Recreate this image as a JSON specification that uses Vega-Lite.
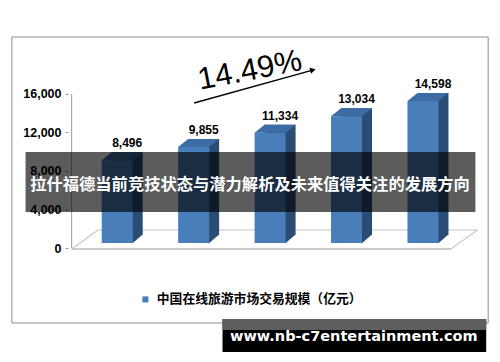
{
  "$schema": "https://vega.github.io/schema/vega-lite/v6.json",
  "width": 500,
  "height": 362,
  "autosize": "none",
  "padding": 0,
  "background": "white",
  "config": {"view": {"stroke": null}},
  "resolve": {"scale": {"y": "independent"}},
  "datasets": {
    "bars": [
      {"year": "2018E", "i": 0, "v": 8496},
      {"year": "2019E", "i": 1, "v": 9855},
      {"year": "2020E", "i": 2, "v": 11334},
      {"year": "2021E", "i": 3, "v": 13034},
      {"year": "2022E", "i": 4, "v": 14598}
    ],
    "one": [{}]
  },
  "layer": [
    {
      "data": {"name": "one"},
      "mark": {"type": "rect", "fillOpacity": 0, "stroke": "#8c8c8c", "strokeWidth": 1},
      "encoding": {
        "x": {"datum": -1.378, "type": "quantitative", "scale": {"domain": [-1.4679, 4.9423], "nice": false, "zero": false},
          "axis": {"orient": "bottom", "offset": -113, "values": [0, 1, 2, 3, 4], "labelExpr": "['2018E','2019E','2020E','2021E','2022E'][datum.value]", "domain": false, "ticks": false, "tickSize": 0, "grid": false, "labelPadding": 8, "labelFont": "Liberation Sans", "labelFontWeight": "bold", "labelFontSize": 13, "labelColor": "black", "labelOffset": -7, "title": null}},
        "x2": {"datum": 4.853},
        "y": {"datum": 21922, "type": "quantitative", "scale": {"domain": [-11844, 25766], "nice": false, "zero": false}, "axis": null},
        "y2": {"datum": -7792}
      }
    },
    {
      "data": {"name": "one"},
      "mark": {"type": "rule", "color": "#9a9a9a", "strokeWidth": 1},
      "encoding": {
        "x": {"datum": -0.596, "type": "quantitative", "scale": {"domain": [-1.4679, 4.9423], "nice": false, "zero": false}, "axis": null},
        "y": {"datum": 0, "type": "quantitative", "scale": {"domain": [-11844, 25766], "nice": false, "zero": false},
          "axis": {"orient": "left", "offset": -68, "values": [0, 4000, 8000, 12000, 16000], "labelExpr": "format(datum.value, ',')", "domain": false, "grid": false, "ticks": true, "tickSize": 3, "tickColor": "#9a9a9a", "labelFont": "Liberation Sans", "labelFontWeight": "bold", "labelFontSize": 12.5, "labelColor": "black", "labelPadding": 4, "title": null}},
        "y2": {"datum": 16000}
      }
    },
    {
      "data": {"name": "one"},
      "mark": {"type": "rule", "color": "#9a9a9a", "strokeWidth": 1},
      "encoding": {
        "x": {"datum": -0.596, "type": "quantitative", "scale": {"domain": [-1.4679, 4.9423], "nice": false, "zero": false}, "axis": null},
        "x2": {"datum": 4.365},
        "y": {"datum": -104, "type": "quantitative", "scale": {"domain": [-11844, 25766], "nice": false, "zero": false}, "axis": null},
        "y2": {"datum": -104}
      }
    },
    {
      "data": {"name": "one"},
      "mark": {"type": "rule", "color": "#c4c4c4", "strokeWidth": 1},
      "encoding": {
        "x": {"datum": -0.25, "type": "quantitative", "scale": {"domain": [-1.4679, 4.9423], "nice": false, "zero": false}, "axis": null},
        "x2": {"datum": 4.712},
        "y": {"datum": 1870, "type": "quantitative", "scale": {"domain": [-11844, 25766], "nice": false, "zero": false}, "axis": null},
        "y2": {"datum": 1870}
      }
    },
    {
      "data": {"name": "one"},
      "mark": {"type": "rule", "color": "#b4b4b4", "strokeWidth": 1},
      "encoding": {
        "x": {"datum": -0.596, "type": "quantitative", "scale": {"domain": [-1.4679, 4.9423], "nice": false, "zero": false}, "axis": null},
        "x2": {"datum": -0.25},
        "y": {"datum": -104, "type": "quantitative", "scale": {"domain": [-11844, 25766], "nice": false, "zero": false}, "axis": null},
        "y2": {"datum": 1870}
      }
    },
    {
      "data": {"name": "one"},
      "mark": {"type": "rule", "color": "#b4b4b4", "strokeWidth": 1},
      "encoding": {
        "x": {"datum": 4.365, "type": "quantitative", "scale": {"domain": [-1.4679, 4.9423], "nice": false, "zero": false}, "axis": null},
        "x2": {"datum": 4.712},
        "y": {"datum": -104, "type": "quantitative", "scale": {"domain": [-11844, 25766], "nice": false, "zero": false}, "axis": null},
        "y2": {"datum": 1870}
      }
    },
    {
      "data": {"name": "bars"},
      "mark": {"type": "bar", "size": 31, "color": "#2b4c74", "xOffset": 10, "yOffset": -8, "y2Offset": -8},
      "encoding": {
        "x": {"field": "i", "type": "quantitative", "scale": {"domain": [-1.4679, 4.9423], "nice": false, "zero": false}, "axis": null},
        "y": {"field": "v", "type": "quantitative", "scale": {"domain": [-12230, 24974], "nice": false, "zero": false}, "axis": null},
        "y2": {"datum": 0}
      }
    },
    {
      "data": {"name": "bars"},
      "mark": {"type": "point", "shape": "M15,0.5L25.5,-8.5L15,-8.5Z", "size": 4, "filled": true, "opacity": 1, "color": "#2b4c74", "strokeWidth": 0},
      "encoding": {
        "x": {"field": "i", "type": "quantitative", "scale": {"domain": [-1.4679, 4.9423], "nice": false, "zero": false}, "axis": null},
        "y": {"datum": 0, "type": "quantitative", "scale": {"domain": [-12230, 24974], "nice": false, "zero": false}, "axis": null}
      }
    },
    {
      "data": {"name": "bars"},
      "mark": {"type": "bar", "size": 31},
      "encoding": {
        "x": {"field": "i", "type": "quantitative", "scale": {"domain": [-1.4679, 4.9423], "nice": false, "zero": false}, "axis": null},
        "y": {"field": "v", "type": "quantitative", "scale": {"domain": [-12230, 24974], "nice": false, "zero": false}, "axis": null},
        "y2": {"datum": 0},
        "color": {"datum": "中国在线旅游市场交易规模（亿元）", "type": "nominal", "scale": {"range": ["#4a7ebb"]},
          "legend": {"orient": "none", "legendX": 139, "legendY": 293, "padding": 0, "symbolType": "square", "symbolSize": 36, "symbolStrokeWidth": 0, "labelFont": "Noto Sans CJK SC", "labelFontWeight": "bold", "labelFontSize": 12.8, "labelColor": "black", "labelOffset": 5, "labelLimit": 400, "title": null}}
      }
    },
    {
      "data": {"name": "bars"},
      "mark": {"type": "point", "shape": "M-15.5,0L15.5,0L25.5,-8L-5.5,-8Z", "size": 4, "filled": true, "opacity": 1, "color": "#3d6ba4", "strokeWidth": 0},
      "encoding": {
        "x": {"field": "i", "type": "quantitative", "scale": {"domain": [-1.4679, 4.9423], "nice": false, "zero": false}, "axis": null},
        "y": {"field": "v", "type": "quantitative", "scale": {"domain": [-12230, 24974], "nice": false, "zero": false}, "axis": null}
      }
    },
    {
      "data": {"name": "bars"},
      "mark": {"type": "text", "dx": 10, "dy": -17, "align": "center", "baseline": "middle", "font": "Liberation Sans", "fontWeight": "bold", "fontSize": 12, "color": "black"},
      "encoding": {
        "x": {"field": "i", "type": "quantitative", "scale": {"domain": [-1.4679, 4.9423], "nice": false, "zero": false}, "axis": null},
        "y": {"field": "v", "type": "quantitative", "scale": {"domain": [-12230, 24974], "nice": false, "zero": false}, "axis": null},
        "text": {"field": "v", "type": "quantitative", "format": ","}
      }
    },
    {
      "data": {"name": "one"},
      "mark": {"type": "rect", "fill": "black", "fillOpacity": 0.64},
      "encoding": {
        "x": {"datum": -1.199, "type": "quantitative", "scale": {"domain": [-1.4679, 4.9423], "nice": false, "zero": false}, "axis": null},
        "x2": {"datum": 4.686},
        "y": {"datum": 9974, "type": "quantitative", "scale": {"domain": [-11844, 25766], "nice": false, "zero": false}, "axis": null},
        "y2": {"datum": 3740}
      }
    },
    {
      "data": {"name": "one"},
      "mark": {"type": "text", "text": "拉什福德当前竞技状态与潜力解析及未来值得关注的发展方向", "align": "center", "baseline": "middle", "font": "Noto Sans CJK SC", "fontWeight": "bold", "fontSize": 16.3, "color": "white"},
      "encoding": {
        "x": {"datum": 1.737, "type": "quantitative", "scale": {"domain": [-1.4679, 4.9423], "nice": false, "zero": false}, "axis": null},
        "y": {"datum": 6545, "type": "quantitative", "scale": {"domain": [-11844, 25766], "nice": false, "zero": false}, "axis": null}
      }
    },
    {
      "data": {"name": "one"},
      "mark": {"type": "text", "text": "14.49%", "align": "center", "baseline": "middle", "angle": -11, "font": "Liberation Sans", "fontSize": 31, "color": "black"},
      "encoding": {
        "x": {"datum": 1.737, "type": "quantitative", "scale": {"domain": [-1.4679, 4.9423], "nice": false, "zero": false}, "axis": null},
        "y": {"datum": 18390, "type": "quantitative", "scale": {"domain": [-11844, 25766], "nice": false, "zero": false}, "axis": null}
      }
    },
    {
      "data": {"name": "one"},
      "mark": {"type": "rule", "color": "black", "strokeWidth": 1.5},
      "encoding": {
        "x": {"datum": 1.006, "type": "quantitative", "scale": {"domain": [-1.4679, 4.9423], "nice": false, "zero": false}, "axis": null},
        "x2": {"datum": 2.545},
        "y": {"datum": 15065, "type": "quantitative", "scale": {"domain": [-11844, 25766], "nice": false, "zero": false}, "axis": null},
        "y2": {"datum": 18452}
      }
    },
    {
      "data": {"name": "one"},
      "mark": {"type": "point", "shape": "triangle-right", "size": 40, "angle": -15, "filled": true, "opacity": 1, "color": "black", "strokeWidth": 0},
      "encoding": {
        "x": {"datum": 2.56, "type": "quantitative", "scale": {"domain": [-1.4679, 4.9423], "nice": false, "zero": false}, "axis": null},
        "y": {"datum": 18494, "type": "quantitative", "scale": {"domain": [-11844, 25766], "nice": false, "zero": false}, "axis": null}
      }
    },
    {
      "data": {"name": "one"},
      "mark": {"type": "rect", "fill": "black"},
      "encoding": {
        "x": {"datum": 1.378, "type": "quantitative", "scale": {"domain": [-1.4679, 4.9423], "nice": false, "zero": false}, "axis": null},
        "x2": {"datum": 4.827},
        "y": {"datum": -7377, "type": "quantitative", "scale": {"domain": [-11844, 25766], "nice": false, "zero": false}, "axis": null},
        "y2": {"datum": -10805}
      }
    },
    {
      "data": {"name": "one"},
      "mark": {"type": "rect", "fill": "#5e5e5e"},
      "encoding": {
        "x": {"datum": 1.378, "type": "quantitative", "scale": {"domain": [-1.4679, 4.9423], "nice": false, "zero": false}, "axis": null},
        "x2": {"datum": 4.827},
        "y": {"datum": -7377, "type": "quantitative", "scale": {"domain": [-11844, 25766], "nice": false, "zero": false}, "axis": null},
        "y2": {"datum": -8520}
      }
    },
    {
      "data": {"name": "one"},
      "mark": {"type": "text", "text": "www.nb-c7entertainment.com", "align": "center", "baseline": "middle", "font": "DejaVu Sans", "fontWeight": "bold", "fontSize": 14.5, "color": "white"},
      "encoding": {
        "x": {"datum": 3.096, "type": "quantitative", "scale": {"domain": [-1.4679, 4.9423], "nice": false, "zero": false}, "axis": null},
        "y": {"datum": -9247, "type": "quantitative", "scale": {"domain": [-11844, 25766], "nice": false, "zero": false}, "axis": null}
      }
    }
  ]
}
